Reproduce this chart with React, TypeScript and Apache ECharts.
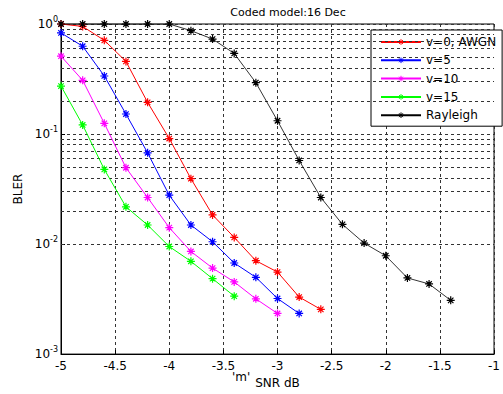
import React, { useEffect, useRef } from "react";
import * as echarts from "echarts";

const snr = [-5, -4.8, -4.6, -4.4, -4.2, -4, -3.8, -3.6, -3.4, -3.2, -3, -2.8, -2.6, -2.4, -2.2, -2, -1.8, -1.6, -1.4];
const v0 = [1.0, 0.95, 0.71, 0.457, 0.194, 0.091, 0.0393, 0.0184, 0.0115, 0.00706, 0.00557, 0.0033, 0.00255];
const v5 = [0.83, 0.628, 0.337, 0.152, 0.0675, 0.0278, 0.0149, 0.0105, 0.00673, 0.00499, 0.0032, 0.00234];
const v10 = [0.51, 0.308, 0.125, 0.0494, 0.0265, 0.0141, 0.00857, 0.00605, 0.00453, 0.00318, 0.00234];
const v15 = [0.273, 0.121, 0.0477, 0.0218, 0.0149, 0.0095, 0.00697, 0.00485, 0.00336];
const rayleigh = [1.0, 1.0, 1.0, 1.0, 1.0, 1.0, 0.87, 0.73, 0.54, 0.293, 0.132, 0.0575, 0.0265, 0.0151, 0.0102, 0.00783, 0.00492, 0.00434, 0.00308];
const seriesNames = ["v=0, AWGN", "v=5", "v=10", "v=15", "Rayleigh"];
const seriesColors = ["#ff0000", "#0000ff", "#ff00ff", "#00ff00", "#000000"];
const minorGridValues = [0.002, 0.003, 0.004, 0.005, 0.006, 0.007, 0.008, 0.009, 0.02, 0.03, 0.04, 0.05, 0.06, 0.07, 0.08, 0.09, 0.2, 0.3, 0.4, 0.5, 0.6, 0.7, 0.8, 0.9];

const FONT = "DejaVu Sans, Verdana, sans-serif";
const STAR = "path://M5,0L5,10M0,5L10,5M1.6,1.6L8.4,8.4M1.6,8.4L8.4,1.6";

export default function App() {
  const ref = useRef<HTMLDivElement>(null);
  useEffect(() => {
    document.body.style.margin = "0";
    const chart = echarts.init(ref.current!, null, { renderer: "svg" });
    const allData = [v0, v5, v10, v15, rayleigh];
    const series: any[] = allData.map((arr, i) => ({
      name: seriesNames[i],
      type: "line",
      data: arr.map((y, j) => [snr[j], y]),
      symbol: STAR,
      symbolSize: 8,
      showSymbol: true,
      showAllSymbol: true,
      lineStyle: { color: seriesColors[i], width: i === 4 ? 0.8 : 1 },
      itemStyle: { color: seriesColors[i], borderColor: seriesColors[i], borderWidth: 1.2 },
      z: 5,
    }));
    series[0].markLine = {
      silent: true,
      symbol: "none",
      label: { show: false },
      animation: false,
      lineStyle: { color: "#333", type: [3, 3], width: 1 },
      data: minorGridValues.map((v) => ({ yAxis: v })),
    };
    chart.setOption({
      animation: false,
      title: {
        text: "Coded model:16 Dec",
        left: 283,
        textAlign: "center",
        top: 2,
        textStyle: { fontFamily: FONT, fontSize: 11, fontWeight: "normal", color: "#000" },
      },
      grid: { left: 61, top: 24, right: -4, bottom: 37, show: true, borderColor: "#000", borderWidth: 1, backgroundColor: "#fff" },
      legend: {
        orient: "vertical",
        left: 371,
        top: 30,
        width: 131,
        data: seriesNames,
        itemWidth: 40,
        itemHeight: 7,
        itemGap: 6.3,
        padding: [6, 6, 5, 9],
        backgroundColor: "#fff",
        borderColor: "#000",
        borderWidth: 1,
        borderRadius: 0,
        itemStyle: { borderWidth: 1 },
        textStyle: { fontFamily: FONT, fontSize: 12, color: "#000" },
      },
      xAxis: {
        type: "value",
        min: -5,
        max: -1,
        interval: 0.5,
        name: "SNR dB",
        nameLocation: "middle",
        nameGap: 20,
        nameTextStyle: { fontFamily: FONT, fontSize: 12, color: "#000" },
        axisLine: { lineStyle: { color: "#000" } },
        axisTick: { inside: true, length: 4, lineStyle: { color: "#000" } },
        axisLabel: { fontFamily: FONT, fontSize: 12, color: "#000", margin: 6 },
        splitLine: { show: true, lineStyle: { color: "#333", type: [3, 3] } },
      },
      yAxis: {
        type: "log",
        logBase: 10,
        min: 0.001,
        max: 1,
        name: "BLER",
        nameLocation: "middle",
        nameGap: 37,
        nameTextStyle: { fontFamily: FONT, fontSize: 12, color: "#000" },
        axisLine: { show: true, lineStyle: { color: "#000" } },
        axisTick: { inside: true, length: 4, lineStyle: { color: "#000" } },
        axisLabel: {
          margin: 3,
          color: "#000",
          formatter: (v: number) => `{b|10}{s|${Math.round(Math.log10(v))}}`,
          rich: {
            b: { fontFamily: FONT, fontSize: 12, color: "#000" },
            s: { fontFamily: FONT, fontSize: 8, color: "#000", padding: [0, 0, 9, 0] },
          },
        },
        splitLine: { show: true, lineStyle: { color: "#333", type: [3, 3] } },
      },
      graphic: [
        {
          type: "text",
          left: 232,
          top: 371,
          style: { text: "'m'", fontFamily: FONT, fontSize: 12, fill: "#000" },
        },
      ],
      series,
    });
    return () => chart.dispose();
  }, []);
  return <div ref={ref} style={{ width: 503, height: 394 }} />;
}
